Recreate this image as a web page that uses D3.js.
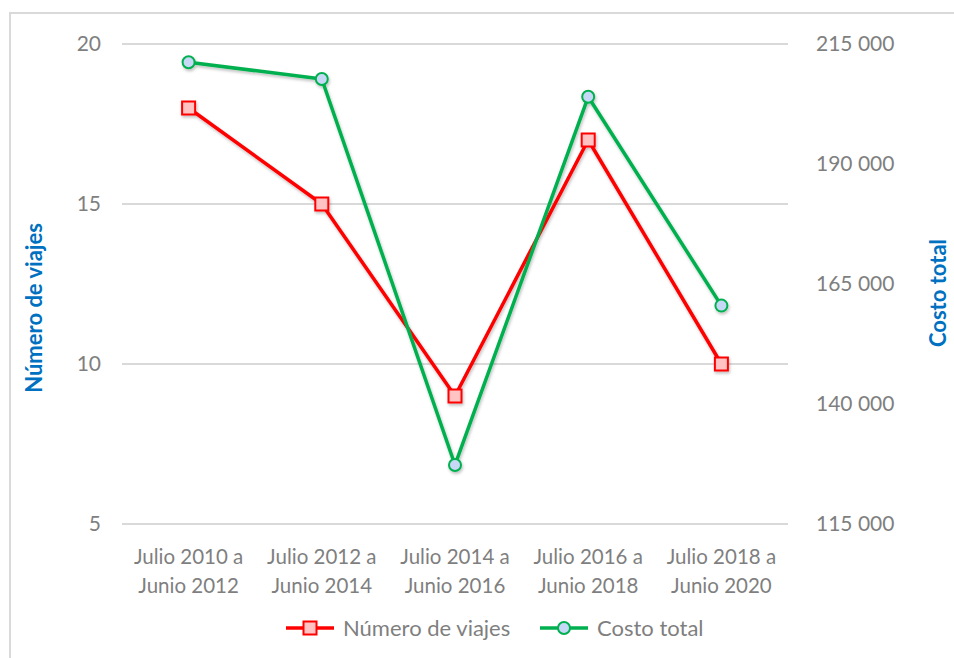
<!DOCTYPE html>
<html>
<head>
<meta charset="utf-8">
<script src="https://cdn.jsdelivr.net/npm/d3@7"></script>
<style>
  body { margin: 0; background: #fff; }
  text { font-family: Lato, "Open Sans", sans-serif; }
</style>
</head>
<body>
<div id="chart-area"></div>
<script>
// Data
const periodLine1 = ["Julio 2010 a", "Julio 2012 a", "Julio 2014 a", "Julio 2016 a", "Julio 2018 a"];
const periodLine2 = ["Junio 2012", "Junio 2014", "Junio 2016", "Junio 2018", "Junio 2020"];
const numViajes = [18, 15, 9, 17, 10];
const costoTotal = [211200, 207700, 127300, 204000, 160500];
const leftTicks = [5, 10, 15, 20];
const rightTicks = [115000, 140000, 165000, 190000, 215000];
const seriesNames = ["Número de viajes", "Costo total"];

// Setup
const width = 954;
const height = 658;
const plot = {left: 122, right: 788, top: 44, bottom: 524};

const svg = d3.select("#chart-area")
	.append("svg")
	.attr("width", width)
	.attr("height", height);

// Background + frame
svg.append("rect")
	.attr("width", width)
	.attr("height", height)
	.attr("fill", "white");

svg.append("rect")
	.attr("x", 10)
	.attr("y", 13)
	.attr("width", 980)
	.attr("height", 700)
	.attr("fill", "none")
	.attr("stroke", "#d9d9d9")
	.attr("stroke-width", 2);

// Soft shadow for series
const defs = svg.append("defs");
defs.append("filter")
	.attr("id", "shadow")
	.attr("x", "-20%").attr("y", "-20%")
	.attr("width", "140%").attr("height", "140%")
	.append("feDropShadow")
	.attr("dx", 1).attr("dy", 2)
	.attr("stdDeviation", 1.5)
	.attr("flood-color", "#000")
	.attr("flood-opacity", 0.25);

// Scales
const x = d3.scaleBand()
	.domain(periodLine1)
	.range([plot.left, plot.right]);

const yLeft = d3.scaleLinear()
	.domain([5, 20])
	.range([plot.bottom, plot.top]);

const yRight = d3.scaleLinear()
	.domain([115000, 215000])
	.range([plot.bottom, plot.top]);

const cx = (d, i) => x(periodLine1[i]) + x.bandwidth() / 2;

// Gridlines
svg.append("g")
	.selectAll("line")
	.data(leftTicks)
	.join("line")
	.attr("x1", plot.left)
	.attr("x2", plot.right)
	.attr("y1", d => yLeft(d))
	.attr("y2", d => yLeft(d))
	.attr("stroke", "#d9d9d9")
	.attr("stroke-width", 2);

// Left axis
const leftAxis = svg.append("g")
	.attr("transform", "translate(" + plot.left + ",0)")
	.call(d3.axisLeft(yLeft).tickValues(leftTicks).tickSize(0).tickPadding(21));
leftAxis.select(".domain").remove();
leftAxis.selectAll("text")
	.attr("fill", "#7f7f7f")
	.attr("font-size", "21px")
	.attr("font-family", "Lato, sans-serif");

// Right axis
const rightAxis = svg.append("g")
	.attr("transform", "translate(" + plot.right + ",0)")
	.call(d3.axisRight(yRight).tickValues(rightTicks).tickSize(0).tickPadding(28)
		.tickFormat(d => d3.format(",")(d).replace(/,/g, " ")));
rightAxis.select(".domain").remove();
rightAxis.selectAll("text")
	.attr("fill", "#7f7f7f")
	.attr("font-size", "21px")
	.attr("font-family", "Lato, sans-serif");

// Category labels (two lines)
const cats = svg.append("g")
	.selectAll("text")
	.data(periodLine1)
	.join("text")
	.attr("text-anchor", "middle")
	.attr("fill", "#7f7f7f")
	.attr("font-size", "20.5px");
cats.append("tspan")
	.attr("x", d => x(d) + x.bandwidth() / 2)
	.attr("y", 564)
	.text(d => d);
cats.append("tspan")
	.attr("x", d => x(d) + x.bandwidth() / 2)
	.attr("y", 593)
	.text((d, i) => periodLine2[i]);

// Axis titles
svg.append("text")
	.attr("transform", "translate(42,308) rotate(-90)")
	.attr("text-anchor", "middle")
	.attr("font-size", "22px")
	.attr("font-weight", "bold")
	.attr("fill", "#0070c0")
	.text("Número de viajes");

svg.append("text")
	.attr("transform", "translate(946,293) rotate(-90)")
	.attr("text-anchor", "middle")
	.attr("font-size", "22px")
	.attr("font-weight", "bold")
	.attr("fill", "#0070c0")
	.text("Costo total");

// Lines
const redLine = d3.line()
	.x(cx)
	.y(d => yLeft(d));

const greenLine = d3.line()
	.x(cx)
	.y(d => yRight(d));

const series = svg.append("g").attr("filter", "url(#shadow)");

series.append("path")
	.datum(numViajes)
	.attr("d", redLine)
	.attr("fill", "none")
	.attr("stroke", "#ff0000")
	.attr("stroke-width", 3.5)
	.attr("stroke-linejoin", "round");

series.append("path")
	.datum(costoTotal)
	.attr("d", greenLine)
	.attr("fill", "none")
	.attr("stroke", "#00b050")
	.attr("stroke-width", 3.5)
	.attr("stroke-linejoin", "round");

// Markers
series.selectAll(".sq")
	.data(numViajes)
	.join("rect")
	.attr("class", "sq")
	.attr("x", (d, i) => cx(d, i) - 6.5)
	.attr("y", d => yLeft(d) - 6.5)
	.attr("width", 13)
	.attr("height", 13)
	.attr("fill", "#ffc3c3")
	.attr("stroke", "#ff0000")
	.attr("stroke-width", 2);

series.selectAll(".dot")
	.data(costoTotal)
	.join("circle")
	.attr("class", "dot")
	.attr("cx", cx)
	.attr("cy", d => yRight(d))
	.attr("r", 6)
	.attr("fill", "#c6d8f6")
	.attr("stroke", "#00b050")
	.attr("stroke-width", 2);

// Legend
const legend = svg.append("g").attr("transform", "translate(0,628)");

const legendItems = [
	{x: 286, color: "#ff0000", fill: "#ffc3c3", shape: "square"},
	{x: 540, color: "#00b050", fill: "#c6d8f6", shape: "circle"}
];

legendItems.forEach((item, i) => {
	const row = legend.append("g").attr("transform", "translate(" + item.x + ",0)");
	row.append("line")
		.attr("x1", 0).attr("x2", 48)
		.attr("y1", 0).attr("y2", 0)
		.attr("stroke", item.color)
		.attr("stroke-width", 3.5);
	if (item.shape === "square") {
		row.append("rect")
			.attr("x", 24 - 6.5).attr("y", -6.5)
			.attr("width", 13).attr("height", 13)
			.attr("fill", item.fill)
			.attr("stroke", item.color)
			.attr("stroke-width", 2);
	} else {
		row.append("circle")
			.attr("cx", 24).attr("cy", 0).attr("r", 6)
			.attr("fill", item.fill)
			.attr("stroke", item.color)
			.attr("stroke-width", 2);
	}
	row.append("text")
		.attr("x", 57)
		.attr("y", 7.5)
		.attr("fill", "#7f7f7f")
		.attr("font-size", "22px")
		.text(seriesNames[i]);
});
</script>
</body>
</html>
